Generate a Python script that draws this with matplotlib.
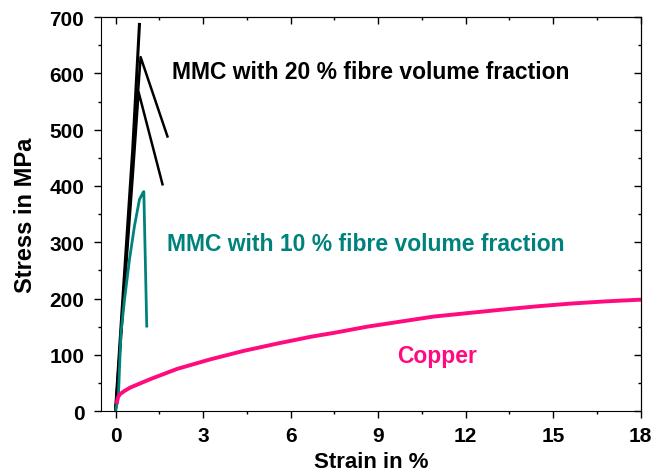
import matplotlib
matplotlib.use("Agg")
import matplotlib.pyplot as plt
from matplotlib.ticker import MultipleLocator

plt.rcParams["font.family"] = ["Liberation Sans", "DejaVu Sans"]
plt.rcParams["font.weight"] = "bold"

# MMC 20 % fibre volume fraction, three specimens (strain %, stress MPa)
mmc20_a_strain = [0.0, 0.25, 0.59, 0.82]
mmc20_a_stress = [0, 199, 465, 687]
mmc20_b_strain = [0.0, 0.26, 0.6, 0.86, 1.78]
mmc20_b_stress = [0, 195, 445, 629, 488]
mmc20_c_strain = [0.0, 0.27, 0.6, 0.79, 1.61]
mmc20_c_stress = [0, 190, 425, 567, 403]

# MMC 10 % fibre volume fraction
mmc10_strain = [0.0, 0.1, 0.14, 0.19, 0.31, 0.48, 0.65, 0.82, 0.94, 0.97, 1.07]
mmc10_stress = [0, 27, 81, 140, 199, 270, 329, 376, 388, 390, 151]

# Copper
cu_strain = [0.05, 0.08, 0.15, 0.31, 0.51, 1.2, 2.11, 3.25, 4.39, 5.54, 6.68,
             7.48, 8.62, 9.76, 10.9, 12.04, 13.18, 14.4, 15.58, 16.8, 17.98]
cu_stress = [16, 24, 30, 36, 42, 57, 75, 92, 107, 120, 132,
             139, 150, 159, 168, 174, 180, 186, 191, 195, 198]

BLACK = "#000000"
TEAL = "#00827c"
PINK = "#ff0a7f"

fig = plt.figure(figsize=(6.64, 4.77), dpi=100)
ax = fig.add_axes([0.152, 0.136, 0.813, 0.826])

ax.plot(mmc20_a_strain, mmc20_a_stress, color=BLACK, lw=2.2)
ax.plot(mmc20_b_strain, mmc20_b_stress, color=BLACK, lw=1.8)
ax.plot(mmc20_c_strain, mmc20_c_stress, color=BLACK, lw=1.8)
ax.plot(mmc10_strain, mmc10_stress, color=TEAL, lw=2.0)
ax.plot(cu_strain, cu_stress, color=PINK, lw=2.8)

ax.set_xlim(-0.5, 18)
ax.set_ylim(0, 700)
ax.xaxis.set_major_locator(MultipleLocator(3))
ax.xaxis.set_minor_locator(MultipleLocator(1.5))
ax.yaxis.set_major_locator(MultipleLocator(100))
ax.yaxis.set_minor_locator(MultipleLocator(50))

ax.tick_params(which="both", direction="out", top=False, right=False, width=1)
ax.tick_params(which="major", length=5, labelsize=15)
ax.tick_params(axis="y", which="major", pad=7)
ax.tick_params(axis="x", which="major", pad=6)
ax.tick_params(which="minor", length=2.5)
for lab in ax.get_xticklabels() + ax.get_yticklabels():
    lab.set_fontweight("bold")

# inward ticks on the top and right edges
sec_x = ax.secondary_xaxis("top")
sec_x.xaxis.set_major_locator(MultipleLocator(3))
sec_x.xaxis.set_minor_locator(MultipleLocator(1.5))
sec_x.tick_params(which="both", direction="in", labeltop=False, width=1)
sec_x.tick_params(which="major", length=5)
sec_x.tick_params(which="minor", length=2.5)
sec_y = ax.secondary_yaxis("right")
sec_y.yaxis.set_major_locator(MultipleLocator(100))
sec_y.yaxis.set_minor_locator(MultipleLocator(50))
sec_y.tick_params(which="both", direction="in", labelright=False, width=1)
sec_y.tick_params(which="major", length=5)
sec_y.tick_params(which="minor", length=2.5)

ax.set_xlabel("Strain in %", fontsize=16, fontweight="bold", labelpad=4)
ax.set_ylabel("Stress in MPa", fontsize=17, fontweight="bold", labelpad=9)

ax.text(1.95, 604, "MMC with 20 % fibre volume fraction", fontsize=16.5,
        fontweight="bold", color=BLACK, va="center")
ax.text(1.78, 298, "MMC with 10 % fibre volume fraction", fontsize=16.5,
        fontweight="bold", color=TEAL, va="center")
ax.text(9.66, 98, "Copper", fontsize=16.5, fontweight="bold", color=PINK, va="center")

fig.savefig("out.png", dpi=100)
